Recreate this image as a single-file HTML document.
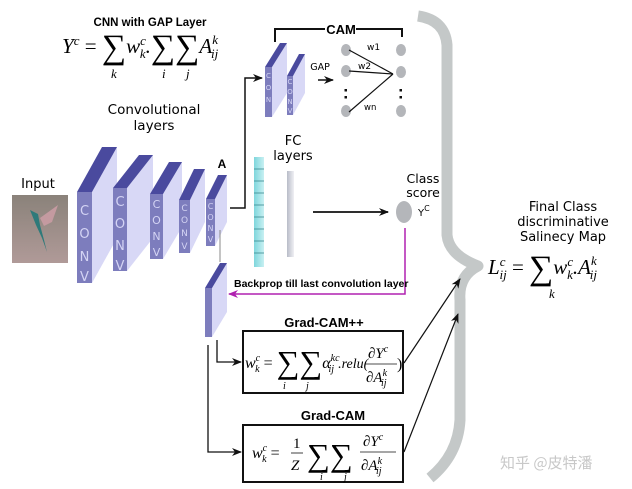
<!DOCTYPE html>
<html><head><meta charset="utf-8"><style>
html,body{margin:0;padding:0;background:#fff}
svg{display:block}
.s{font-family:"DejaVu Sans","Liberation Sans",sans-serif}
.b{font-family:"Liberation Sans",sans-serif;font-weight:bold}
.m{font-family:"Liberation Serif",serif;font-style:italic}
.r{font-family:"Liberation Serif",serif}
.cv{font-family:"DejaVu Sans",sans-serif;fill:#d4d4f4}
</style></head><body>
<svg width="632" height="489" viewBox="0 0 632 489" xmlns="http://www.w3.org/2000/svg">
<defs>
<marker id="ar" markerWidth="10" markerHeight="8" refX="9" refY="4" orient="auto" markerUnits="userSpaceOnUse"><path d="M0,0 L10,4 L0,8 L3,4z" fill="#111"/></marker>
<marker id="am" markerWidth="10" markerHeight="8" refX="9" refY="4" orient="auto" markerUnits="userSpaceOnUse"><path d="M0,0 L10,4 L0,8 L3,4z" fill="#b020b0"/></marker>
<linearGradient id="gb" x1="0" x2="1"><stop offset="0" stop-color="#b8bcc8"/><stop offset="1" stop-color="#f0f0f4"/></linearGradient>
<linearGradient id="cy" x1="0" x2="1"><stop offset="0" stop-color="#7fd6dc"/><stop offset="1" stop-color="#c8f0f2"/></linearGradient>
<linearGradient id="img" x1="0" y1="0" x2="0" y2="1"><stop offset="0" stop-color="#8a827a"/><stop offset="1" stop-color="#b09a98"/></linearGradient>
</defs>

<path d="M418,16 Q445,20 447,45 L447,235 Q449,255 478,266 Q458,276 460,300 L460,420 Q458,455 430,478" fill="none" stroke="#c4c8c8" stroke-width="11" stroke-linejoin="round"/>

<text x="150" y="26" class="b" font-size="11.5" text-anchor="middle">CNN with GAP Layer</text>
<text x="62" y="53" class="m" font-size="21">Y<tspan font-size="13" dy="-8">c</tspan><tspan class="r" font-style="normal" dy="8"> = </tspan><tspan font-size="34" class="r" font-style="normal" dy="5">∑</tspan><tspan dy="-5">w</tspan><tspan font-size="13" dy="-8">c</tspan><tspan font-size="13" dx="-6" dy="13">k</tspan><tspan dy="-5">.</tspan><tspan font-size="34" class="r" font-style="normal" dy="5">∑∑</tspan><tspan dy="-5">A</tspan><tspan font-size="13" dy="-9">k</tspan><tspan font-size="13" dx="-7" dy="14">ij</tspan></text>
<text x="111" y="78" class="m" font-size="13">k</text>
<text x="162" y="78" class="m" font-size="13">i</text>
<text x="186" y="78" class="m" font-size="13">j</text>

<text x="154" y="114" class="s" font-size="13.5" text-anchor="middle">Convolutional</text>
<text x="154" y="130" class="s" font-size="13.5" text-anchor="middle">layers</text>
<text x="38" y="188" class="s" font-size="13" text-anchor="middle">Input</text>

<rect x="12" y="195" width="56" height="68" fill="url(#img)"/>
<path d="M30,210 L38,214 L40,225 L44,240 L47,252 L42,238 L36,225z" fill="#2e7a7a"/>
<path d="M40,218 L58,205 L52,222 L44,226z" fill="#c49aa0"/>

<g>
<polygon points="92,192 117,147 117,238 92,283" fill="#d8d8f6"/><polygon points="77,192 92,192 117,147 102,147" fill="#4a4a9e"/><rect x="77" y="192" width="15" height="91" fill="#7d7dbd"/>
<text class="cv" font-size="13" text-anchor="middle"><tspan x="84.5" y="215">C</tspan><tspan x="84.5" y="238">O</tspan><tspan x="84.5" y="261">N</tspan><tspan x="84.5" y="281">V</tspan></text>
<polygon points="127,188 153,155 153,238 127,271" fill="#d8d8f6"/><polygon points="113,188 127,188 153,155 139,155" fill="#4a4a9e"/><rect x="113" y="188" width="14" height="83" fill="#7d7dbd"/>
<text class="cv" font-size="13" text-anchor="middle"><tspan x="120" y="206">C</tspan><tspan x="120" y="228">O</tspan><tspan x="120" y="250">N</tspan><tspan x="120" y="270">V</tspan></text>
<polygon points="163,194 182,162 182,227 163,259" fill="#d8d8f6"/><polygon points="150,194 163,194 182,162 169,162" fill="#4a4a9e"/><rect x="150" y="194" width="13" height="65" fill="#7d7dbd"/>
<text class="cv" font-size="11" text-anchor="middle"><tspan x="156.5" y="208">C</tspan><tspan x="156.5" y="224">O</tspan><tspan x="156.5" y="240">N</tspan><tspan x="156.5" y="256">V</tspan></text>
<polygon points="190,200 205,169 205,222 190,253" fill="#d8d8f6"/><polygon points="179,200 190,200 205,169 194,169" fill="#4a4a9e"/><rect x="179" y="200" width="11" height="53" fill="#7d7dbd"/>
<text class="cv" font-size="9" text-anchor="middle"><tspan x="184.5" y="211">C</tspan><tspan x="184.5" y="223">O</tspan><tspan x="184.5" y="236">N</tspan><tspan x="184.5" y="249">V</tspan></text>
<polygon points="215,199 227,175 227,222 215,246" fill="#d8d8f6"/><polygon points="206,199 215,199 227,175 218,175" fill="#4a4a9e"/><rect x="206" y="199" width="9" height="47" fill="#7d7dbd"/>
<text class="cv" font-size="8" text-anchor="middle"><tspan x="210.5" y="209">C</tspan><tspan x="210.5" y="220">O</tspan><tspan x="210.5" y="231">N</tspan><tspan x="210.5" y="242">V</tspan></text>
</g>
<text x="222" y="168" class="b" font-size="12" text-anchor="middle">A</text>

<polyline points="230,208 245,208 245,78 262,78" fill="none" stroke="#111" stroke-width="1.5" marker-end="url(#ar)"/>

<polygon points="272,67 287,43 287,93 272,117" fill="#d8d8f6"/><polygon points="265,67 272,67 287,43 280,43" fill="#4a4a9e"/><rect x="265" y="67" width="7" height="50" fill="#7d7dbd"/>
<text class="cv" font-size="7" text-anchor="middle"><tspan x="268.5" y="78">C</tspan><tspan x="268.5" y="90">O</tspan><tspan x="268.5" y="102">N</tspan></text>
<polygon points="293,76 305,54 305,93 293,115" fill="#d8d8f6"/><polygon points="287,76 293,76 305,54 299,54" fill="#4a4a9e"/><rect x="287" y="76" width="6" height="39" fill="#7d7dbd"/>
<text class="cv" font-size="7" text-anchor="middle"><tspan x="290" y="84">C</tspan><tspan x="290" y="94">O</tspan><tspan x="290" y="104">N</tspan><tspan x="290" y="113">V</tspan></text>

<polyline points="275,42 275,29 325,29" fill="none" stroke="#111" stroke-width="2"/>
<polyline points="356,29 402,29 402,37" fill="none" stroke="#111" stroke-width="2"/>
<text x="341" y="34" class="b" font-size="13" text-anchor="middle">CAM</text>
<text x="320" y="70" class="s" font-size="9.5" text-anchor="middle">GAP</text>
<line x1="318" y1="80" x2="333" y2="80" stroke="#111" stroke-width="1.5" marker-end="url(#ar)"/>

<g fill="#b4b6ba">
<ellipse cx="346" cy="50" rx="5" ry="6"/><ellipse cx="346" cy="71" rx="5" ry="6"/><ellipse cx="346" cy="111" rx="5" ry="6"/>
<ellipse cx="401" cy="50" rx="5" ry="6"/><ellipse cx="401" cy="72" rx="5" ry="6"/><ellipse cx="401" cy="111" rx="5" ry="6"/>
</g>
<g fill="#111"><rect x="344.5" y="89" width="2.5" height="2.5"/><rect x="344.5" y="96" width="2.5" height="2.5"/><rect x="399.5" y="89" width="2.5" height="2.5"/><rect x="399.5" y="96" width="2.5" height="2.5"/></g>
<g stroke="#111" stroke-width="1.2"><line x1="349" y1="50" x2="393" y2="74"/><line x1="349" y1="71" x2="393" y2="74"/><line x1="349" y1="112" x2="393" y2="74"/></g>
<text x="367" y="50" class="s" font-size="9">w1</text>
<text x="358" y="69" class="s" font-size="9">w2</text>
<text x="364" y="110" class="s" font-size="8.5">wn</text>

<text x="293" y="145" class="s" font-size="13" text-anchor="middle">FC</text>
<text x="293" y="160" class="s" font-size="13" text-anchor="middle">layers</text>
<rect x="254" y="157" width="10" height="110" fill="url(#cy)"/>
<g stroke="#3a8a90" stroke-width="0.8">
<line x1="254" y1="169" x2="264" y2="169"/><line x1="254" y1="181" x2="264" y2="181"/><line x1="254" y1="193" x2="264" y2="193"/><line x1="254" y1="205" x2="264" y2="205"/><line x1="254" y1="217" x2="264" y2="217"/><line x1="254" y1="229" x2="264" y2="229"/><line x1="254" y1="241" x2="264" y2="241"/><line x1="254" y1="253" x2="264" y2="253"/></g>
<rect x="287" y="171" width="7" height="86" fill="url(#gb)"/>
<line x1="313" y1="212" x2="388" y2="212" stroke="#111" stroke-width="1.8" marker-end="url(#ar)"/>
<ellipse cx="404" cy="212" rx="8" ry="11" fill="#b4b6ba"/>
<text x="423" y="183" class="s" font-size="12.5" text-anchor="middle">Class</text>
<text x="423" y="197" class="s" font-size="12.5" text-anchor="middle">score</text>
<text x="418" y="216" class="s" font-size="10">Y<tspan font-size="8" dy="-5">C</tspan></text>

<polyline points="405,228 405,294 229,294" fill="none" stroke="#b020b0" stroke-width="1.5" marker-end="url(#am)"/>
<text x="234" y="287" class="b" font-size="10.5">Backprop till last convolution layer</text>

<polygon points="212,288 227,263 227,312 212,337" fill="#d8d8f6"/><polygon points="205,288 212,288 227,263 220,263" fill="#4a4a9e"/><rect x="205" y="288" width="7" height="49" fill="#7d7dbd"/>
<line x1="220" y1="230" x2="220" y2="262" stroke="#888" stroke-width="1"/>
<polyline points="217,340 217,362 241,362" fill="none" stroke="#111" stroke-width="1.3" marker-end="url(#ar)"/>
<polyline points="208,345 208,452 241,452" fill="none" stroke="#111" stroke-width="1.3" marker-end="url(#ar)"/>

<text x="324" y="327" class="b" font-size="13" text-anchor="middle">Grad-CAM++</text>
<rect x="243" y="331" width="160" height="62" fill="#fff" stroke="#111" stroke-width="2"/>
<text x="245" y="368" class="m" font-size="16">w<tspan font-size="10" dy="-7">c</tspan><tspan font-size="10" dx="-5" dy="11">k</tspan><tspan class="r" font-style="normal" dy="-4"> = </tspan><tspan class="r" font-style="normal" font-size="32" dy="5">∑∑</tspan><tspan dy="-5">α</tspan><tspan font-size="10" dy="-7">kc</tspan><tspan font-size="10" dx="-11" dy="11">ij</tspan><tspan dy="-4" dx="4" font-size="14">.relu(</tspan></text>
<text x="368" y="358" class="m" font-size="15">∂Y<tspan font-size="10" dy="-6">c</tspan></text>
<line x1="365" y1="364" x2="397" y2="364" stroke="#111" stroke-width="0.8"/>
<text x="366" y="382" class="m" font-size="15">∂A<tspan font-size="10" dy="-6">k</tspan><tspan font-size="10" dx="-6" dy="10">ij</tspan></text>
<text x="397" y="369" class="r" font-size="16">)</text>
<text x="283" y="389" class="m" font-size="10">i</text><text x="306" y="389" class="m" font-size="10">j</text>

<text x="333" y="420" class="b" font-size="13" text-anchor="middle">Grad-CAM</text>
<rect x="243" y="425" width="160" height="57" fill="#fff" stroke="#111" stroke-width="2"/>
<text x="252" y="458" class="m" font-size="16">w<tspan font-size="10" dy="-7">c</tspan><tspan font-size="10" dx="-5" dy="11">k</tspan><tspan class="r" font-style="normal" dy="-4"> = </tspan></text>
<text x="293" y="448" class="r" font-size="15">1</text>
<line x1="291" y1="453" x2="303" y2="453" stroke="#111" stroke-width="0.8"/>
<text x="291" y="470" class="m" font-size="15">Z</text>
<text x="307" y="466" class="r" font-size="32">∑∑</text>
<text x="320" y="480" class="m" font-size="10">i</text><text x="344" y="480" class="m" font-size="10">j</text>
<text x="363" y="446" class="m" font-size="15">∂Y<tspan font-size="10" dy="-6">c</tspan></text>
<line x1="360" y1="452" x2="396" y2="452" stroke="#111" stroke-width="0.8"/>
<text x="361" y="470" class="m" font-size="15">∂A<tspan font-size="10" dy="-6">k</tspan><tspan font-size="10" dx="-6" dy="10">ij</tspan></text>

<line x1="404" y1="363" x2="460" y2="279" stroke="#111" stroke-width="1.2" marker-end="url(#ar)"/>
<line x1="404" y1="452" x2="458" y2="314" stroke="#111" stroke-width="1.2" marker-end="url(#ar)"/>

<text x="563" y="211" class="s" font-size="13" text-anchor="middle">Final Class</text>
<text x="563" y="226" class="s" font-size="13" text-anchor="middle">discriminative</text>
<text x="563" y="241" class="s" font-size="13" text-anchor="middle">Salinecy Map</text>
<text x="488" y="274" class="m" font-size="21">L<tspan font-size="13" dy="-8">c</tspan><tspan font-size="13" dx="-6" dy="13">ij</tspan><tspan class="r" font-style="normal" dy="-5"> = </tspan><tspan class="r" font-style="normal" font-size="34" dy="5">∑</tspan><tspan dy="-5">w</tspan><tspan font-size="13" dy="-8">c</tspan><tspan font-size="13" dx="-6" dy="13">k</tspan><tspan dy="-5">.A</tspan><tspan font-size="13" dy="-9">k</tspan><tspan font-size="13" dx="-7" dy="14">ij</tspan></text>
<text x="549" y="298" class="m" font-size="13">k</text>

<text x="500" y="468" font-family="'Noto Sans CJK SC',sans-serif" font-size="15" fill="#c8c8c8">知乎 @皮特潘</text>
</svg>
</body></html>
